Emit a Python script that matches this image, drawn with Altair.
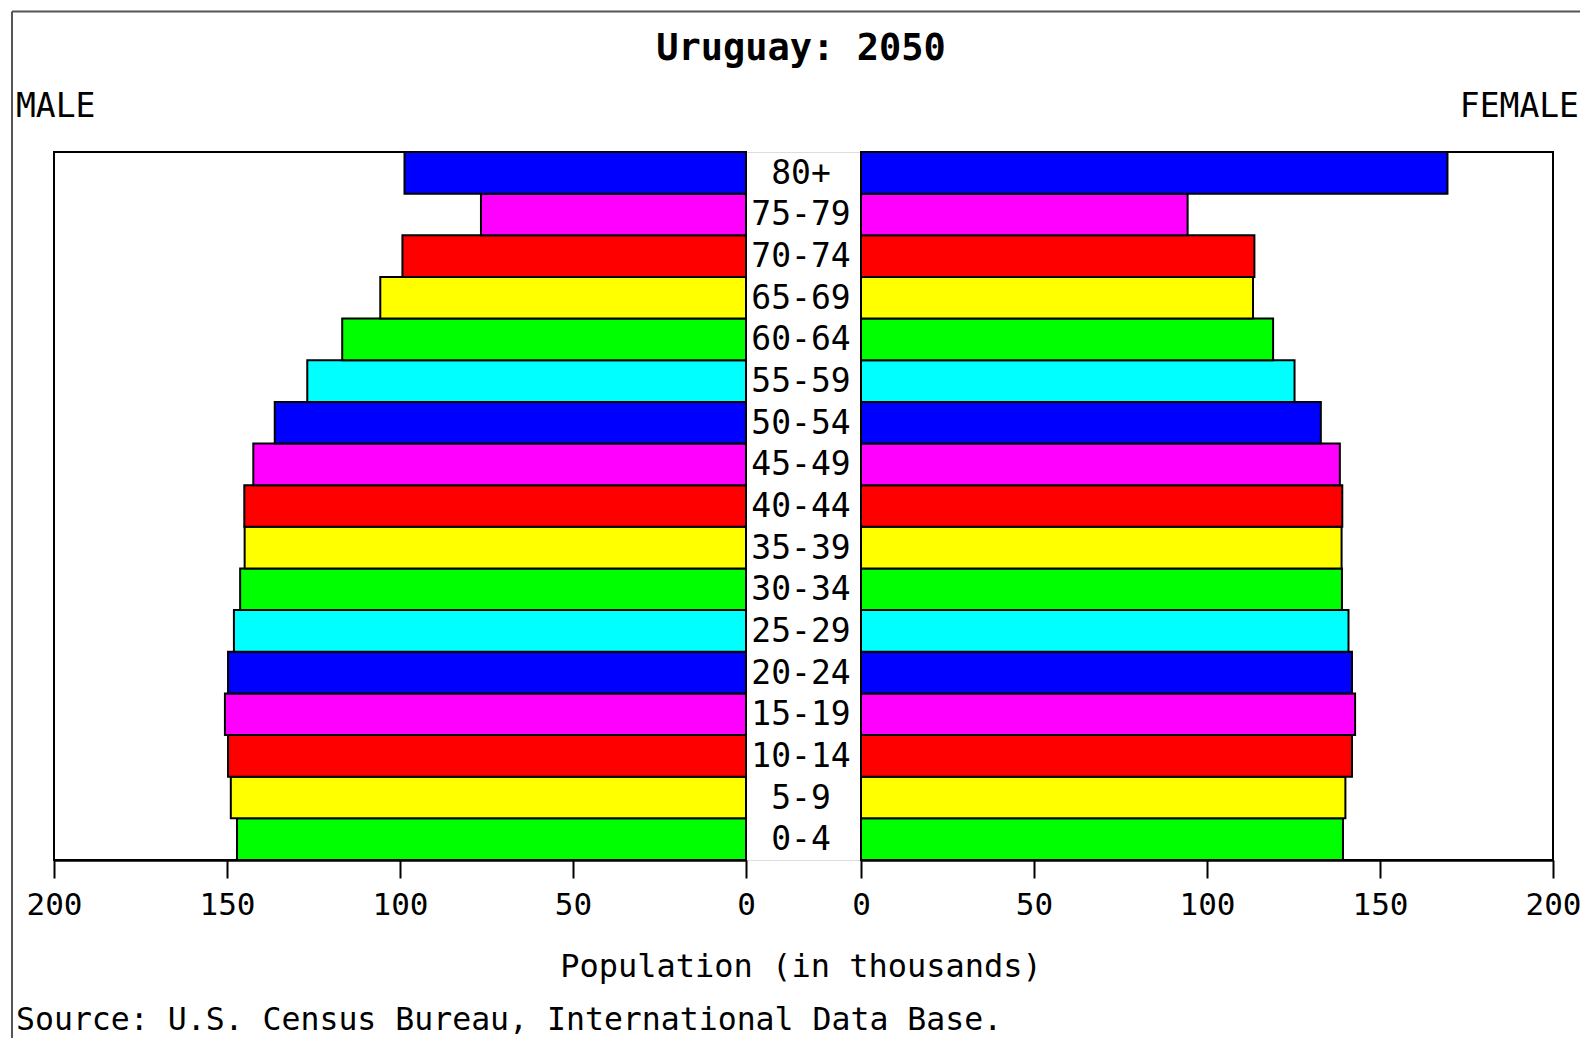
import altair as alt
import pandas as pd

# ---- data ----
ages = ["0-4", "5-9", "10-14", "15-19", "20-24", "25-29", "30-34", "35-39",
        "40-44", "45-49", "50-54", "55-59", "60-64", "65-69", "70-74", "75-79", "80+"]
male = [147.1, 148.9, 149.7, 150.6, 149.7, 148.0, 146.2, 144.9,
        145.0, 142.4, 136.2, 126.8, 116.7, 105.7, 99.3, 76.6, 98.7]
female = [139.3, 140.0, 141.9, 142.8, 141.9, 140.9, 139.0, 138.9,
          139.1, 138.4, 132.9, 125.3, 119.1, 113.3, 113.7, 94.4, 169.5]
tick_values = [0, 50, 100, 150, 200]

title_text = "Uruguay: 2050"
male_label = "MALE"
female_label = "FEMALE"
x_title = "Population (in thousands)"
source_text = "Source: U.S. Census Bureau, International Data Base."

# ---- styles ----
palette = ["#00FF00", "#FFFF00", "#FF0000", "#FF00FF", "#0000FF", "#00FFFF"]
FONT = "DejaVu Sans Mono"
W, H = 1499, 708
LEFT_RANGE = [692, 0]
RIGHT_RANGE = [807, 1499]
MID_X = 747

df = pd.DataFrame({"age": ages, "male": male, "female": female})
age_colors = [palette[i % len(palette)] for i in range(len(ages))]

y_enc = alt.Y("age:N", sort=list(reversed(ages)),
              scale=alt.Scale(paddingInner=0, paddingOuter=0), axis=None)
color_enc = alt.Color("age:N", scale=alt.Scale(domain=ages, range=age_colors), legend=None)


def make_axis():
    return alt.Axis(orient="bottom", values=tick_values, format="d", grid=False, title=None,
                    tickSize=18, tickWidth=2, tickColor="black",
                    domainColor="black", domainWidth=2.5,
                    labelFont=FONT, labelFontSize=31, labelColor="black",
                    labelPadding=12, labelFlush=False, labelOverlap=False)


left_scale = alt.Scale(domain=[0, 200], range=LEFT_RANGE, nice=False)
right_scale = alt.Scale(domain=[0, 200], range=RIGHT_RANGE, nice=False)

one = alt.Data(values=[{}])

frame_left = alt.Chart(one).mark_rect(filled=False, stroke="black", strokeWidth=2).encode(
    x=alt.X(datum=200, type="quantitative", scale=left_scale, axis=make_axis()),
    x2=alt.datum(0),
    y=alt.value(0), y2=alt.value(H),
)
bars_left = alt.Chart(df).mark_bar(stroke="black", strokeWidth=2).encode(
    x=alt.X("male:Q", scale=left_scale, axis=make_axis()),
    y=y_enc, color=color_enc,
)
frame_right = alt.Chart(one).mark_rect(filled=False, stroke="black", strokeWidth=2).encode(
    x=alt.X(datum=0, type="quantitative", scale=right_scale, axis=make_axis()),
    x2=alt.datum(200),
    y=alt.value(0), y2=alt.value(H),
)
bars_right = alt.Chart(df).mark_bar(stroke="black", strokeWidth=2).encode(
    x=alt.X("female:Q", scale=right_scale, axis=make_axis()),
    y=y_enc, color=color_enc,
)

left = alt.layer(frame_left, bars_left)
right = alt.layer(frame_right, bars_right)

age_labels = alt.Chart(df).mark_text(font=FONT, fontSize=33, color="black",
                                     align="center", baseline="middle", dy=1).encode(
    x=alt.value(MID_X), y=y_enc, text="age:N",
)


def txt(t, x, y, align="left", size=33, weight="normal"):
    return alt.Chart(one).mark_text(text=t, font=FONT, fontSize=size, fontWeight=weight,
                                    color="black", align=align, baseline="middle").encode(
        x=alt.value(x), y=alt.value(y))


title = txt(title_text, MID_X, -103, align="center", size=37, weight="bold")
male_t = txt(male_label, -38, -45)
female_t = txt(female_label, 1525, -45, align="right")
xt = txt(x_title, MID_X, 815, align="center", size=32)
src = txt(source_text, -38, 869, size=31.5)

border_top = alt.Chart(one).mark_rule(color="#555555", strokeWidth=2).encode(
    x=alt.value(-42), x2=alt.value(1540), y=alt.value(-140.5))
border_left = alt.Chart(one).mark_rule(color="#555555", strokeWidth=2).encode(
    x=alt.value(-42), y=alt.value(-140.5), y2=alt.value(900))

chart = alt.layer(
    border_top, border_left, left, right, age_labels, title, male_t, female_t, xt, src
).resolve_scale(x="independent").properties(
    width=W, height=H,
    autosize=alt.AutoSizeParams(type="none"),
    padding={"left": 46, "top": 144, "right": 27, "bottom": 178},
).configure_view(strokeWidth=0).configure(background="white")

chart.save("out.html", embed_options={"renderer": "svg", "actions": False})
